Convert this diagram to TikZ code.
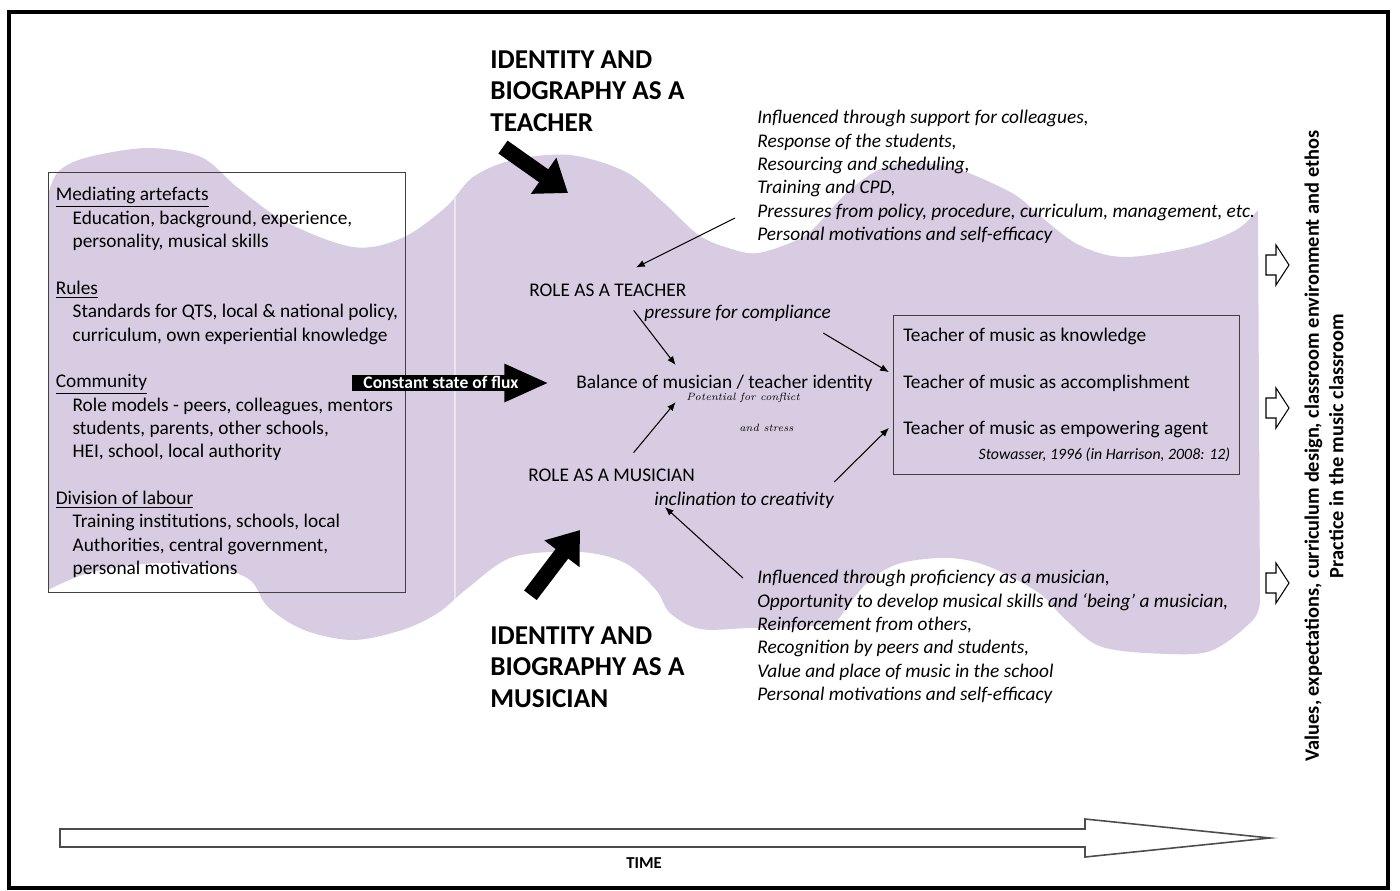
\documentclass[tikz,border=0pt]{standalone}
\usepackage{fontspec}
\setmainfont{Carlito}
\usepackage{tikz}
\usetikzlibrary{arrows.meta}
\definecolor{lilac}{RGB}{216,204,226}
\newcommand{\hdg}[1]{\underline{#1}}
\newcommand{\ind}{\hspace*{9.6pt}}

\begin{document}
\begin{tikzpicture}[x=0.02cm,y=-0.02cm,
  txt/.style={inner sep=0pt,font=\fontsize{11}{13.3}\selectfont},
  itx/.style={txt,font=\fontsize{11}{13.3}\selectfont\itshape},
  hand/.style={inner sep=0pt,font=\fontfamily{lmr}\fontsize{6}{7}\selectfont\itshape},
  big/.style={inner sep=0pt,align=left,font=\fontsize{15.5}{18.1}\selectfont\bfseries},
  thin/.style={line width=0.6pt,-{Latex[length=5pt,width=4pt]}},
  fat/.style={line width=9pt,-{Triangle[length=17pt,width=24pt]}},
  fluxarr/.style={line width=9.6pt,-{Triangle[length=25.5pt,width=20pt]}},
  outarr/.style={line width=0.6pt,fill=white}]
  \useasboundingbox (0,0) rectangle (1400,890);
  \draw[line width=1.8pt] (9,12) rectangle (1388,888);
  \fill[lilac] (48,590) -- (48,200)
   -- plot[smooth,tension=0.55] coordinates {(48,195) (58,172) (85,158) (147,148) (201,157)
      (237,187) (286,222) (353,247) (402,238) (446,207) (473,177) (513,160) (570,155)
      (626,172) (664,203) (700,236) (735,250) (758,253) (790,243) (812,230) (852,188)
      (892,165) (950,167) (1012,193) (1040,216) (1079,245) (1124,257) (1191,247)
      (1236,230) (1258,210)}
   -- plot[smooth,tension=0.55] coordinates {(1260,600) (1253,620) (1213,650) (1169,654)
      (1102,647) (1066,620) (1039,593) (990,567) (950,558) (901,563) (870,580) (847,607)
      (834,622) (800,627) (750,628) (700,629) (670,613) (656,590) (625,563) (580,552)
      (513,557) (469,587) (438,613) (402,630) (353,640) (304,630) (268,607) (250,580)
      (214,567) (156,563) (89,573) (48,590)}
   -- cycle;
  \draw[white,opacity=0.5,line width=1pt] (455,198) -- (455,600);

  \node[txt,draw=black!75,line width=0.7pt,anchor=north west,align=left,
        minimum width=203pt,minimum height=239pt,inner xsep=2pt] (ctx) at (48,172)
   {\hdg{Mediating artefacts}\\
    \ind Education, background, experience,\\
    \ind personality, musical skills\\[13.3pt]
    \hdg{Rules}\\
    \ind Standards for QTS, local \& national policy,\\
    \ind curriculum, own experiential knowledge\\[13.3pt]
    \hdg{Community}\\
    \ind Role models - peers, colleagues, mentors\\
    \ind students, parents, other schools,\\
    \ind HEI, school, local authority\\[13.3pt]
    \hdg{Division of labour}\\
    \ind Training institutions, schools, local\\
    \ind Authorities, central government,\\
    \ind personal motivations};

  \node[big,anchor=north west] (idT) at (490,50) {IDENTITY AND\\BIOGRAPHY AS A\\TEACHER};
  \node[big,anchor=north west] (idM) at (490,626) {IDENTITY AND\\BIOGRAPHY AS A\\MUSICIAN};
  \coordinate (tipT) at (568,193);
  \coordinate (tipM) at (580,530);
  \draw[fat] ([xshift=7.4pt,yshift=-8.5pt]idT.south west) -- (tipT);
  \draw[fat] ([xshift=23pt,yshift=17.5pt]idM.north west) -- (tipM);

  \node[itx,align=left,anchor=north west] (infT) at (757,110)
   {Influenced through support for colleagues,\\
    Response of the students,\\
    Resourcing and scheduling,\\
    Training and CPD,\\
    Pressures from policy, procedure, curriculum, management, etc.\\
    Personal motivations and self-efficacy};
  \node[itx,align=left,anchor=north west] (infM) at (757,570)
   {Influenced through proficiency as a musician,\\
    Opportunity to develop musical skills and `being' a musician,\\
    Reinforcement from others,\\
    Recognition by peers and students,\\
    Value and place of music in the school\\
    Personal motivations and self-efficacy};

  \node[txt,anchor=west] (roleT) at (529,290) {ROLE AS A TEACHER};
  \node[itx,anchor=west] (press) at (644,313) {pressure for compliance};
  \node[txt,anchor=west] (bal) at (576,383) {Balance of musician / teacher identity};
  \node[hand,anchor=west] (pot) at (686,398) {Potential for conflict};
  \node[hand,anchor=west] (strs) at (739,428) {and stress};
  \node[txt,anchor=west] (roleM) at (528,475) {ROLE AS A MUSICIAN};
  \node[itx,anchor=west] (incl) at (654,500) {inclination to creativity};

  \coordinate (fluxA) at (352,383);
  \draw[fluxarr] (fluxA) -- ([xshift=-15.3pt]bal.west);
  \node[inner sep=0pt,text=white,font=\fontsize{10}{12}\selectfont\bfseries] (flux) at (441,382) {Constant state of flux};

  \node[txt,draw=black!75,line width=0.7pt,anchor=north west,align=left,
        minimum width=197pt,inner ysep=7pt] (tbox) at (893,315)
   {Teacher of music as knowledge\\[13.3pt]
    Teacher of music as accomplishment\\[13.3pt]
    Teacher of music as empowering agent\\[1pt]
    \makebox[186pt][r]{\fontsize{9}{10}\selectfont\itshape Stowasser, 1996 (in Harrison, 2008: 12)}};

  \coordinate (fromT) at (735,218);
  \coordinate (fromM) at (743,578);
  \draw[thin] (fromT) -- ([xshift=16pt,yshift=9pt]roleT.north);
  \draw[thin] ([xshift=14.7pt,yshift=-7.8pt]roleT.south) -- ([xshift=-27.8pt,yshift=5.3pt]bal.north);
  \draw[thin] ([xshift=12.5pt,yshift=8.9pt]roleM.north) -- ([xshift=-27.8pt,yshift=-5.9pt]bal.south);
  \draw[thin] ([xshift=-4.5pt,yshift=-6.5pt]press.south east) -- ([xshift=-2.3pt,yshift=13pt]tbox.west);
  \draw[thin] ([yshift=5.3pt]incl.north east) -- ([xshift=-2.3pt,yshift=-18.7pt]tbox.west);
  \draw[thin] (fromM) -- ([xshift=6.2pt,yshift=0.9pt]incl.south west);

  \draw[outarr] (1266,255) -- ++(10,0) -- ++(0,-10) -- ++(13,20) -- ++(-13,20) -- ++(0,-10) -- ++(-10,0) -- cycle;
  \draw[outarr] (1266,398) -- ++(10,0) -- ++(0,-10) -- ++(13,20) -- ++(-13,20) -- ++(0,-10) -- ++(-10,0) -- cycle;
  \draw[outarr] (1266,573) -- ++(10,0) -- ++(0,-10) -- ++(13,20) -- ++(-13,20) -- ++(0,-10) -- ++(-10,0) -- cycle;
  \node[inner sep=0pt,rotate=90,align=center,font=\fontsize{11.6}{14}\selectfont\bfseries] (prac) at (1324,446)
   {Values, expectations, curriculum design, classroom environment and ethos\\
    Practice in the music classroom};

  \draw[line width=0.9pt,black!70] (60,829) -- (1085,829) -- (1085,819) -- (1270,838)
   -- (1085,857) -- (1085,847) -- (60,847) -- cycle;
  \node[inner sep=0pt,font=\fontsize{9.5}{11}\selectfont\bfseries] (time) at (644,863) {TIME};
\end{tikzpicture}
\end{document}
